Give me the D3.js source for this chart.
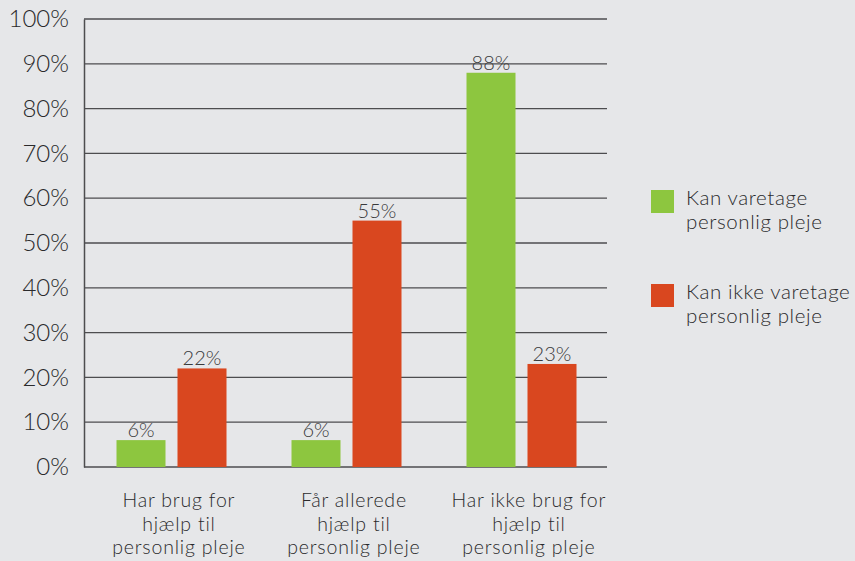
<!DOCTYPE html>
<html><head><meta charset="utf-8">
<script src="https://cdnjs.cloudflare.com/ajax/libs/d3/7.8.5/d3.min.js"></script>
<style>
html,body{margin:0;padding:0;background:#e6e7e9;}
svg{display:block;}
text{font-family:Lato,"Open Sans",sans-serif;font-weight:300;}
</style></head><body>
<script>
const categories = [["Har brug for","hjælp til","personlig pleje"],["Får allerede","hjælp til","personlig pleje"],["Har ikke brug for","hjælp til","personlig pleje"]];
const seriesNames = [["Kan varetage","personlig pleje"],["Kan ikke varetage","personlig pleje"]];
const canValues = [6, 6, 88];
const cannotValues = [22, 55, 23];
const yTicks = [0,10,20,30,40,50,60,70,80,90,100];
const colors = ["#8dc63f", "#d9471f"];

const W = 855, H = 561;
const svg = d3.select("body").append("svg").attr("width", W).attr("height", H);
svg.append("rect").attr("width", W).attr("height", H).attr("fill", "#e6e7e9");

const x0 = d3.scaleBand().domain(d3.range(categories.length)).range([84, 609]).padding(0);
const y = d3.scaleLinear().domain([0, 100]).range([467, 19]);
const barW = 49, gap = 12;

// grid
svg.append("g").selectAll("line").data(yTicks).join("line")
  .attr("x1", 84).attr("x2", 607)
  .attr("y1", d => y(d)).attr("y2", d => y(d))
  .attr("stroke", "#4d4d4f").attr("stroke-width", 1.3);

// y axis
const yAxis = d3.axisLeft(y).tickValues(yTicks).tickFormat(d => d + "%").tickSize(0).tickPadding(15);
const ga = svg.append("g").attr("transform", "translate(84,0)").call(yAxis);
ga.select(".domain").attr("stroke", "#4d4d4f").attr("stroke-width", 1.5);
ga.selectAll("text").attr("font-size", 24).attr("fill", "#2a2a2c").attr("font-family", "Lato,sans-serif").attr("font-weight", 300);

// bars
const series = [canValues, cannotValues];
series.forEach((vals, si) => {
  const g = svg.append("g");
  vals.forEach((v, i) => {
    const cx = x0(i) + x0.bandwidth() / 2;
    const bx = si === 0 ? cx - gap / 2 - barW : cx + gap / 2;
    g.append("rect").attr("x", bx).attr("y", y(v)).attr("width", barW).attr("height", y(0) - y(v)).attr("fill", colors[si]);
    g.append("text").attr("x", bx + barW / 2).attr("y", y(v) - 3).attr("text-anchor", "middle")
      .attr("font-size", 20).attr("fill", "#3a3a3c").text(v + "%");
  });
});

// category labels
categories.forEach((lines, i) => {
  const cx = x0(i) + x0.bandwidth() / 2 + 7;
  lines.forEach((l, j) => svg.append("text").attr("text-anchor", "middle").attr("font-size", 19.5)
    .attr("letter-spacing", 0.8).attr("fill", "#2a2a2c")
    .attr("x", cx + 0.4).attr("y", 507 + j * 23.5).text(l));
});

// legend
seriesNames.forEach((lines, i) => {
  const ly = 190 + i * 94;
  svg.append("rect").attr("x", 651).attr("y", ly).attr("width", 23).attr("height", 23).attr("fill", colors[i]);
  lines.forEach((l, j) => svg.append("text").attr("font-size", 20.5).attr("letter-spacing", 0.6).attr("fill", "#2a2a2c")
    .attr("x", 686).attr("y", ly + 15 + j * 24).text(l));
});
</script>
</body></html>
